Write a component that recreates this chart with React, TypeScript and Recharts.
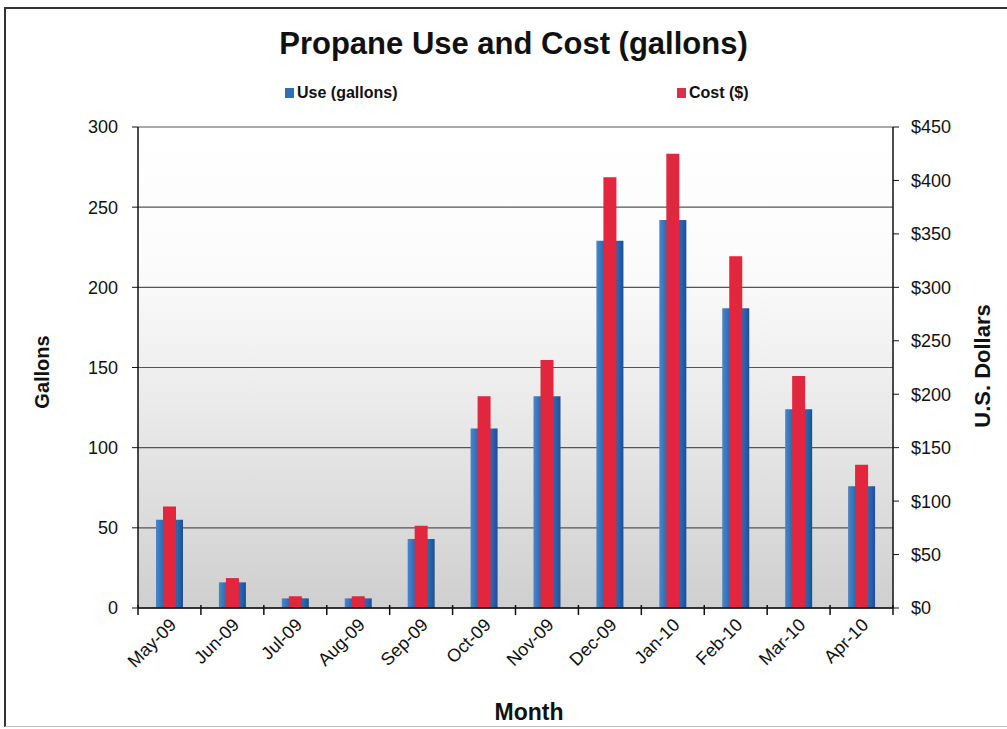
import type { ReactElement } from 'react';
import { Bar, CartesianGrid, ComposedChart, XAxis, YAxis } from 'recharts';

const months = [
  'May-09', 'Jun-09', 'Jul-09', 'Aug-09', 'Sep-09', 'Oct-09',
  'Nov-09', 'Dec-09', 'Jan-10', 'Feb-10', 'Mar-10', 'Apr-10',
];
const useGallons = [55, 16, 6, 6, 43, 112, 132, 229, 242, 187, 124, 76];
const costDollars = [95, 28, 11, 11, 77, 198, 232, 403, 425, 329, 217, 134];
const gallonTicks = [0, 50, 100, 150, 200, 250, 300];
const dollarTicks = [0, 50, 100, 150, 200, 250, 300, 350, 400, 450];

const FONT = '"Liberation Sans", Arial, sans-serif';

interface TickProps {
  readonly x?: number;
  readonly y?: number;
  readonly index?: number;
  readonly payload?: { value: string; offset?: number };
}

function MonthTick({ x = 0, y = 0, index = 0, payload }: TickProps): ReactElement {
  const half = payload?.offset ?? 31.5;
  const last = index === months.length - 1;
  return (
    <g>
      <line x1={x - half} x2={x - half} y1={y - 3} y2={y + 7} stroke="#111" strokeWidth={1.5} />
      {last && <line x1={x + half} x2={x + half} y1={y - 3} y2={y + 7} stroke="#111" strokeWidth={1.5} />}
      <text
        x={x + 8}
        y={y + 18}
        textAnchor="end"
        transform={`rotate(-45 ${x + 8} ${y + 18})`}
        fontFamily={FONT}
        fontSize={18}
        fill="#111"
      >
        {payload?.value}
      </text>
    </g>
  );
}

export default function App(): ReactElement {
  const data = months.map((month, i) => ({
    month,
    use: useGallons[i],
    cost: costDollars[i],
  }));

  return (
    <div style={{ position: 'absolute', left: 0, top: 0, width: 1007, height: 729, background: '#fff', fontFamily: FONT, overflow: 'hidden' }}>
      <div style={{ position: 'absolute', left: 4, top: 7, width: 1100, height: 717, borderTop: '2px solid #333', borderLeft: '2px solid #333', borderBottom: '1px solid #bbb' }} />

      <div style={{ position: 'absolute', left: 0, width: 1007, top: 26, textAlign: 'center', fontSize: 31, fontWeight: 'bold', color: '#111', paddingLeft: 20, boxSizing: 'border-box' }}>
        Propane Use and Cost (gallons)
      </div>

      <div style={{ position: 'absolute', left: 285, top: 84, fontSize: 16, fontWeight: 'bold', color: '#111', display: 'flex', alignItems: 'center' }}>
        <span style={{ display: 'inline-block', width: 9, height: 10, background: '#2f6fb5', marginRight: 3 }} />
        Use (gallons)
      </div>
      <div style={{ position: 'absolute', left: 677, top: 84, fontSize: 16, fontWeight: 'bold', color: '#111', display: 'flex', alignItems: 'center' }}>
        <span style={{ display: 'inline-block', width: 9, height: 10, background: '#d8304a', marginRight: 3 }} />
        Cost ($)
      </div>

      <div style={{ position: 'absolute', left: 42, top: 372, transform: 'translate(-50%, -50%) rotate(-90deg)', fontSize: 20, fontWeight: 'bold', color: '#111', whiteSpace: 'nowrap' }}>
        Gallons
      </div>
      <div style={{ position: 'absolute', left: 983, top: 366, transform: 'translate(-50%, -50%) rotate(-90deg)', fontSize: 22, fontWeight: 'bold', color: '#111', whiteSpace: 'nowrap' }}>
        U.S. Dollars
      </div>
      <div style={{ position: 'absolute', left: 529, top: 712, transform: 'translate(-50%, -50%)', fontSize: 23, fontWeight: 'bold', color: '#111' }}>
        Month
      </div>

      <ComposedChart
        width={1007}
        height={729}
        data={data}
        margin={{ top: 127, right: 50, bottom: 41, left: 88 }}
      >
        <defs>
          <linearGradient id="plotBg" x1="0" y1="0" x2="0" y2="1">
            <stop offset="0%" stopColor="#ffffff" />
            <stop offset="30%" stopColor="#fbfbfb" />
            <stop offset="65%" stopColor="#e6e6e6" />
            <stop offset="100%" stopColor="#cfcfcf" />
          </linearGradient>
          <linearGradient id="blueBar" x1="0" y1="0" x2="1" y2="0">
            <stop offset="0%" stopColor="#4a86c8" />
            <stop offset="25%" stopColor="#2d6bb6" />
            <stop offset="80%" stopColor="#2a66b0" />
            <stop offset="100%" stopColor="#1c4f92" />
          </linearGradient>
        </defs>
        <CartesianGrid
          yAxisId="left"
          xAxisId="blue"
          vertical={false}
          stroke="#555"
          strokeWidth={1.2}
          fill="url(#plotBg)"
          fillOpacity={1}
        />
        <XAxis
          xAxisId="blue"
          dataKey="month"
          height={80}
          interval={0}
          tickLine={false}
          tickSize={0}
          tickMargin={0}
          axisLine={{ stroke: '#111', strokeWidth: 1.5 }}
          tick={<MonthTick />}
        />
        <XAxis xAxisId="red" dataKey="month" hide />
        <YAxis
          yAxisId="left"
          width={50}
          domain={[0, 300]}
          ticks={gallonTicks}
          interval={0}
          axisLine={{ stroke: '#111', strokeWidth: 1.5 }}
          tickLine={{ stroke: '#111' }}
          tickSize={6}
          tickMargin={14}
          tick={{ fill: '#111', fontSize: 18, fontFamily: FONT }}
        />
        <YAxis
          yAxisId="right"
          orientation="right"
          width={64}
          domain={[0, 450]}
          ticks={dollarTicks}
          interval={0}
          tickFormatter={(v: number) => `$${v}`}
          axisLine={{ stroke: '#111', strokeWidth: 1.5 }}
          tickLine={{ stroke: '#111' }}
          tickSize={6}
          tickMargin={12}
          tick={{ fill: '#111', fontSize: 18, fontFamily: FONT }}
        />
        <Bar
          xAxisId="blue"
          yAxisId="left"
          dataKey="use"
          name="Use (gallons)"
          barSize={27}
          fill="url(#blueBar)"
          isAnimationActive={false}
        />
        <Bar
          xAxisId="red"
          yAxisId="right"
          dataKey="cost"
          name="Cost ($)"
          barSize={13}
          fill="#e2263d"
          isAnimationActive={false}
        />
      </ComposedChart>
    </div>
  );
}
